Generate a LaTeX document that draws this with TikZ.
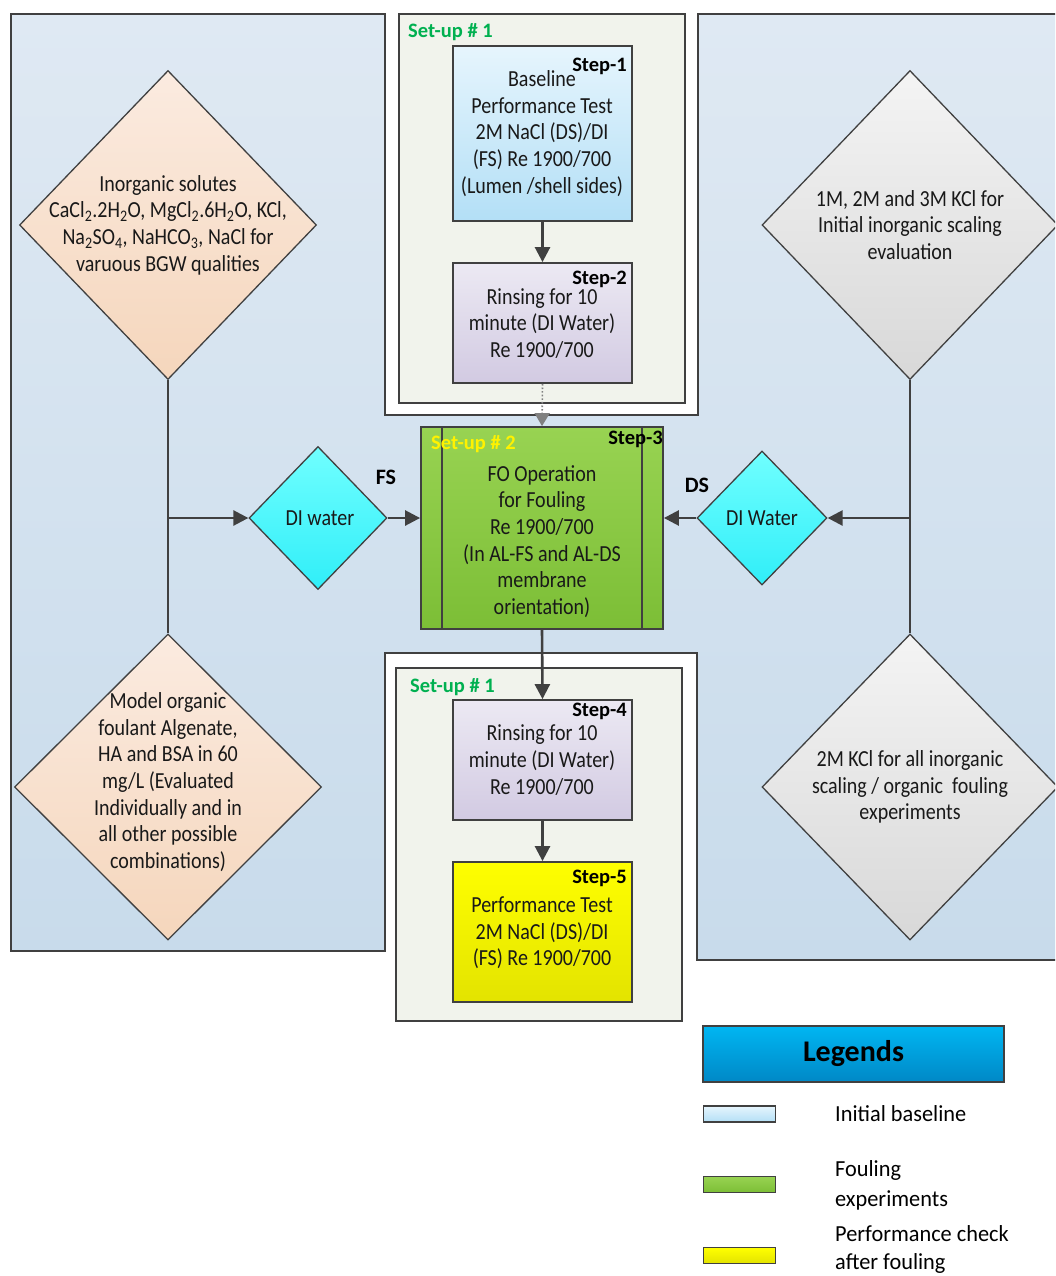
\documentclass[tikz,border=0pt]{standalone}
\usepackage{fontspec}
\setmainfont{Carlito}[FakeStretch=0.87]
\newfontfamily\lblfont{Carlito}
\newfontfamily\legfont{Carlito}[FakeStretch=0.97]
\usetikzlibrary{shapes.geometric,arrows.meta}
\definecolor{bordc}{HTML}{404040}
\definecolor{panT}{HTML}{DFE9F3}
\definecolor{panB}{HTML}{C8DBEB}
\definecolor{setupc}{HTML}{F1F3EC}
\definecolor{grn}{HTML}{00B050}
\definecolor{blT}{HTML}{E6F5FD}
\definecolor{blB}{HTML}{B3DFF6}
\definecolor{lvT}{HTML}{ECE9F3}
\definecolor{lvB}{HTML}{D2CAE2}
\definecolor{gnT}{HTML}{98D352}
\definecolor{gnB}{HTML}{7CBE36}
\definecolor{ywT}{HTML}{FFFF00}
\definecolor{ywB}{HTML}{E3E300}
\definecolor{cyT}{HTML}{70FFFF}
\definecolor{cyB}{HTML}{30EEF8}
\definecolor{pcT}{HTML}{FBEBE0}
\definecolor{pcB}{HTML}{F5D6BC}
\definecolor{gyT}{HTML}{F4F4F4}
\definecolor{gyB}{HTML}{D8D8D8}
\definecolor{lgT}{HTML}{00B6F2}
\definecolor{lgB}{HTML}{0088C6}
\tikzset{
  panel/.style={draw=bordc, line width=1.6pt, top color=panT, bottom color=panB},
  setupbox/.style={draw=bordc, line width=1.6pt, fill=setupc},
  stepbox/.style={draw=bordc, line width=1.8pt, rectangle, inner sep=0pt},
  txt/.style={align=center, font=\fontsize{23}{26.6}\selectfont, inner sep=0pt, text=black!90},
  steplbl/.style={font=\lblfont\bfseries\fontsize{20.5}{22}\selectfont, inner sep=0pt, anchor=east},
  setuplbl/.style={font=\lblfont\bfseries\fontsize{20.5}{22}\selectfont, inner sep=0pt, anchor=west},
  dia/.style={diamond, draw=bordc, line width=1.3pt, inner sep=0pt},
  conn/.style={draw=bordc, line width=2.4pt},
  arr/.style={draw=bordc, line width=2.6pt, -{Triangle[width=15pt,length=15pt]}},
  legtxt/.style={font=\legfont\fontsize{23}{26}\selectfont, anchor=west, inner sep=0pt},
  swatch/.style={draw=bordc, line width=1.6pt, rectangle, inner sep=0pt, minimum width=72pt, minimum height=16pt}
}
\begin{document}
\begin{tikzpicture}[x=1pt,y=-1pt]
\clip (0,0) rectangle (1055,1276);
\fill[white] (0,0) rectangle (1055,1276);

% background panels
\path[panel] (11,14) -- (385,14) -- (385,415) -- (698,415) -- (698,14) -- (1062,14) -- (1062,960) -- (697,960) -- (697,653) -- (385,653) -- (385,951) -- (11,951) -- cycle;

% set-up frames
\path[setupbox] (399,14) rectangle (685,403);
\node[setuplbl, text=grn] (su1a) at (408,32) {Set-up \# 1};
\path[setupbox] (396,668) rectangle (682,1021);
\node[setuplbl, text=grn] (su1b) at (410,687) {Set-up \# 1};

% step 1
\node[stepbox, top color=blT, bottom color=blB, minimum width=179pt, minimum height=175pt] (s1) at (542.5,133.5) {};
\node[steplbl] (s1l) at (627,66) {Step-1};
\node[txt] (s1t) at (542,133.5) {Baseline\\Performance Test\\2M NaCl (DS)/DI\\(FS) Re 1900/700\\(Lumen /shell sides)};

% step 2
\node[stepbox, top color=lvT, bottom color=lvB, minimum width=179pt, minimum height=120pt] (s2) at (542.5,323) {};
\node[steplbl] (s2l) at (627,279) {Step-2};
\node[txt] (s2t) at (542,323.5) {Rinsing for 10\\minute (DI Water)\\Re 1900/700};

% step 3
\node[stepbox, top color=gnT, bottom color=gnB, minimum width=242pt, minimum height=202pt] (s3) at (542,528) {};
\draw[bordc, line width=1.6pt] (442,427) -- (442,629) (642,427) -- (642,629);
\node[steplbl] (s3l) at (663,439) {Step-3};
\node[setuplbl, text=yellow] (su2) at (431,444) {Set-up \# 2};
\node[txt] (s3t) at (542,541.5) {FO Operation\\for Fouling\\Re 1900/700\\(In AL-FS and AL-DS\\membrane\\orientation)};

% step 4
\node[stepbox, top color=lvT, bottom color=lvB, minimum width=179pt, minimum height=120pt] (s4) at (542.5,760) {};
\node[steplbl] (s4l) at (627,711) {Step-4};
\node[txt] (s4t) at (542,760) {Rinsing for 10\\minute (DI Water)\\Re 1900/700};

% step 5
\node[stepbox, top color=ywT, bottom color=ywB, minimum width=179pt, minimum height=140pt] (s5) at (542.5,932) {};
\node[steplbl] (s5l) at (627,878) {Step-5};
\node[txt] (s5t) at (542,933) {Performance Test\\2M NaCl (DS)/DI\\(FS) Re 1900/700};

% left diamonds
\node[dia, top color=pcT, bottom color=pcB, minimum width=297pt, minimum height=309pt] (inorg) at (168,225) {};
\node[txt] (inorgt) at (168,225) {Inorganic solutes\\CaCl\textsubscript{2}.2H\textsubscript{2}O, MgCl\textsubscript{2}.6H\textsubscript{2}O, KCl,\\Na\textsubscript{2}SO\textsubscript{4}, NaHCO\textsubscript{3}, NaCl for\\varuous BGW qualities};
\node[dia, top color=pcT, bottom color=pcB, minimum width=307pt, minimum height=306pt] (org) at (168,787) {};
\node[txt] (orgt) at (168,782) {Model organic\\foulant Algenate,\\HA and BSA in 60\\mg/L (Evaluated\\Individually and in\\all other possible\\combinations)};

% right diamonds
\node[dia, top color=gyT, bottom color=gyB, minimum width=296pt, minimum height=309pt] (kcl1) at (910,225) {};
\node[txt] (kcl1t) at (910,225) {1M, 2M and 3M KCl for\\Initial inorganic scaling\\evaluation};
\node[dia, top color=gyT, bottom color=gyB, minimum width=296pt, minimum height=306pt] (kcl2) at (910,787) {};
\node[txt] (kcl2t) at (910,787) {2M KCl for all inorganic\\scaling / organic\ \ fouling\\experiments};

% DI water diamonds
\node[dia, top color=cyT, bottom color=cyB, minimum width=138pt, minimum height=143pt] (diw) at (318,518) {};
\node[txt] (diwt) at (320,518) {DI water};
\node[dia, top color=cyT, bottom color=cyB, minimum width=130pt, minimum height=134pt] (dir) at (762,518) {};
\node[txt] (dirt) at (762,518) {DI Water};

\node[font=\lblfont\bfseries\fontsize{22}{24}\selectfont, inner sep=0pt] (fs) at (386,477) {FS};
\node[font=\lblfont\bfseries\fontsize{22}{24}\selectfont, inner sep=0pt] (ds) at (697,485) {DS};

% connectors
\coordinate (jl) at (168,518);
\coordinate (jr) at (910,518);
\draw[conn] (inorg.south) -- (org.north);
\draw[conn] (kcl1.south) -- (kcl2.north);
\draw[arr] (jl) -- (diw.west);
\draw[arr] (diw.east) -- (diw.east -| s3.west);
\draw[arr] (jr) -- (dir.east);
\draw[arr] (dir.west) -- (dir.west -| s3.east);
\draw[arr] (s1.south) -- (s2.north);
\draw[draw=gray, line width=1.6pt, dotted, -{Triangle[width=15pt,length=13pt]}] (s2.south) -- (s3.north);
\draw[arr] (s3.south) -- (s4.north);
\draw[arr] (s4.south) -- (s5.north);

% legend
\node[draw=bordc, line width=1.6pt, top color=lgT, bottom color=lgB, minimum width=301pt, minimum height=56pt, inner sep=0pt, font=\lblfont\bfseries\fontsize{30}{32}\selectfont] (leg) at (853.5,1054) {Legends};
\node[swatch, top color=blT, bottom color=blB] (lg1) at (739.5,1114) {};
\node[swatch, top color=gnT, bottom color=gnB] (lg2) at (739.5,1184.5) {};
\node[swatch, top color=ywT, bottom color=ywB] (lg3) at (739.5,1255.5) {};
\node[legtxt] (lg1t) at (835,1114) {Initial baseline};
\node[legtxt] (lg2t) at (835,1170) {Fouling};
\node[legtxt] (lg2u) at (835,1200) {experiments};
\node[legtxt] (lg3t) at (835,1234) {Performance check};
\node[legtxt] (lg3u) at (835,1263) {after fouling};
\end{tikzpicture}
\end{document}
